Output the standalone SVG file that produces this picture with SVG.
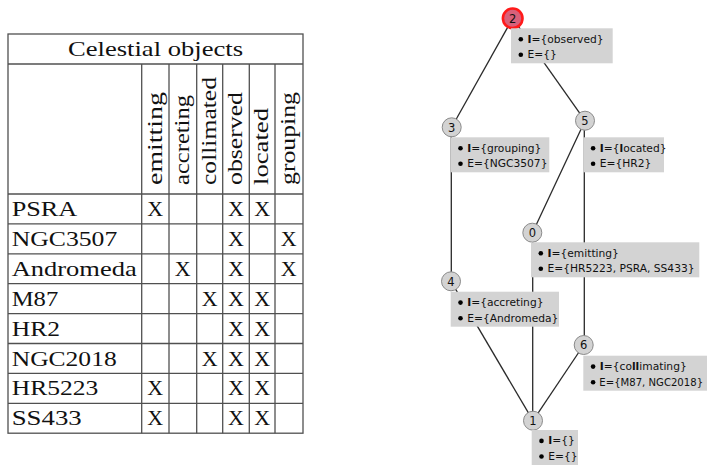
<svg xmlns="http://www.w3.org/2000/svg" width="707" height="466" viewBox="0 0 707 466">
<style>
.tl{stroke:#505050;stroke-width:1.3;fill:none}
.tt{font-family:"Liberation Serif","Times New Roman",serif;font-size:22px;fill:#111}
.hd{font-family:"Liberation Serif","Times New Roman",serif;font-size:22px;fill:#111}
.xm{font-family:"Liberation Serif","Times New Roman",serif;font-size:22px;fill:#111;text-anchor:middle}
.edge{stroke:#2a2a2a;stroke-width:1.3;fill:none}
.nd{fill:#d3d3d3;stroke:#8a8a8a;stroke-width:1}
.top{fill:#d9607a;stroke:#ff1a1a;stroke-width:2.6}
.nl{font-family:"DejaVu Sans",sans-serif;font-size:11.5px;fill:#111;text-anchor:middle}
.box{fill:#d3d3d3}
.bt{font-family:"DejaVu Sans",sans-serif;font-size:10.7px;fill:#111}
.b{font-weight:bold}
.bl{fill:#000}
</style>
<g id="table">
<rect class="tl" x="8" y="34" width="295" height="399.2"/>
<line class="tl" x1="8" y1="64" x2="303" y2="64"/>
<line class="tl" x1="8" y1="194" x2="303" y2="194"/>
<line class="tl" x1="8" y1="223.9" x2="303" y2="223.9"/>
<line class="tl" x1="8" y1="253.8" x2="303" y2="253.8"/>
<line class="tl" x1="8" y1="283.7" x2="303" y2="283.7"/>
<line class="tl" x1="8" y1="313.6" x2="303" y2="313.6"/>
<line class="tl" x1="8" y1="343.5" x2="303" y2="343.5"/>
<line class="tl" x1="8" y1="373.4" x2="303" y2="373.4"/>
<line class="tl" x1="8" y1="403.3" x2="303" y2="403.3"/>
<line class="tl" x1="141.7" y1="64" x2="141.7" y2="433.2"/>
<line class="tl" x1="169" y1="64" x2="169" y2="433.2"/>
<line class="tl" x1="196.7" y1="64" x2="196.7" y2="433.2"/>
<line class="tl" x1="222.7" y1="64" x2="222.7" y2="433.2"/>
<line class="tl" x1="249.3" y1="64" x2="249.3" y2="433.2"/>
<line class="tl" x1="275" y1="64" x2="275" y2="433.2"/>
<text class="tt" x="155.5" y="56" text-anchor="middle" textLength="175" lengthAdjust="spacingAndGlyphs">Celestial objects</text>
<text class="hd" transform="translate(161.5,185) rotate(-90)" textLength="93" lengthAdjust="spacingAndGlyphs">emitting</text>
<text class="hd" transform="translate(189,185) rotate(-90)" textLength="90" lengthAdjust="spacingAndGlyphs">accreting</text>
<text class="hd" transform="translate(216,185) rotate(-90)" textLength="108" lengthAdjust="spacingAndGlyphs">collimated</text>
<text class="hd" transform="translate(242.2,185) rotate(-90)" textLength="93" lengthAdjust="spacingAndGlyphs">observed</text>
<text class="hd" transform="translate(268.4,185) rotate(-90)" textLength="77" lengthAdjust="spacingAndGlyphs">located</text>
<text class="hd" transform="translate(295,185) rotate(-90)" textLength="93" lengthAdjust="spacingAndGlyphs">grouping</text>
<text class="tt" x="11.7" y="216" textLength="65.6" lengthAdjust="spacingAndGlyphs">PSRA</text>
<text class="tt" x="11.7" y="245.9" textLength="105.6" lengthAdjust="spacingAndGlyphs">NGC3507</text>
<text class="tt" x="11.7" y="275.8" textLength="125" lengthAdjust="spacingAndGlyphs">Andromeda</text>
<text class="tt" x="11.7" y="305.7" textLength="46.6" lengthAdjust="spacingAndGlyphs">M87</text>
<text class="tt" x="11.7" y="335.6" textLength="48.3" lengthAdjust="spacingAndGlyphs">HR2</text>
<text class="tt" x="11.7" y="365.5" textLength="105" lengthAdjust="spacingAndGlyphs">NGC2018</text>
<text class="tt" x="11.7" y="395.4" textLength="86.6" lengthAdjust="spacingAndGlyphs">HR5223</text>
<text class="tt" x="11.7" y="425.3" textLength="70" lengthAdjust="spacingAndGlyphs">SS433</text>
<text class="xm" x="155.3" y="216">X</text><text class="xm" x="236" y="216">X</text><text class="xm" x="262.2" y="216">X</text>
<text class="xm" x="236" y="245.9">X</text><text class="xm" x="288.8" y="245.9">X</text>
<text class="xm" x="182.8" y="275.8">X</text><text class="xm" x="236" y="275.8">X</text><text class="xm" x="288.8" y="275.8">X</text>
<text class="xm" x="209.7" y="305.7">X</text><text class="xm" x="236" y="305.7">X</text><text class="xm" x="262.2" y="305.7">X</text>
<text class="xm" x="236" y="335.6">X</text><text class="xm" x="262.2" y="335.6">X</text>
<text class="xm" x="209.7" y="365.5">X</text><text class="xm" x="236" y="365.5">X</text><text class="xm" x="262.2" y="365.5">X</text>
<text class="xm" x="155.3" y="395.4">X</text><text class="xm" x="236" y="395.4">X</text><text class="xm" x="262.2" y="395.4">X</text>
<text class="xm" x="155.3" y="425.3">X</text><text class="xm" x="236" y="425.3">X</text><text class="xm" x="262.2" y="425.3">X</text>
</g>
<g id="connectors">
<line class="edge" x1="512.7" y1="18.3" x2="451.7" y2="127.3"/>
<line class="edge" x1="512.7" y1="18.3" x2="585" y2="120.7"/>
<line class="edge" x1="451.3" y1="127.3" x2="451.3" y2="281.3"/>
<line class="edge" x1="585" y1="120.7" x2="532.5" y2="232.7"/>
<line class="edge" x1="584.3" y1="120.7" x2="584.3" y2="345"/>
<line class="edge" x1="532.7" y1="232.7" x2="532.7" y2="420.7"/>
<line class="edge" x1="451" y1="281.3" x2="533" y2="420.7"/>
<line class="edge" x1="583.7" y1="345" x2="533" y2="420.7"/>
</g>
<g id="node2">
<circle class="top" cx="512.7" cy="18.3" r="9.8"/>
<text class="nl" x="512.7" y="22.5">2</text>
<rect class="box" x="511" y="28.3" width="101.7" height="35"/>
<circle class="bl" cx="520.8" cy="39.2" r="2.3"/><text class="bt" x="527.5" y="42.7"><tspan class="b">I</tspan>={observed}</text>
<circle class="bl" cx="520.8" cy="54.8" r="2.3"/><text class="bt" x="527.5" y="58.3">E={}</text>
</g>
<g id="node3">
<circle class="nd" cx="451.7" cy="127.3" r="9.5"/>
<text class="nl" x="451.7" y="131.5">3</text>
<rect class="box" x="450.7" y="137.3" width="98.6" height="35"/>
<circle class="bl" cx="460.5" cy="148.2" r="2.3"/><text class="bt" x="467.2" y="151.7"><tspan class="b">I</tspan>={grouping}</text>
<circle class="bl" cx="460.5" cy="163.8" r="2.3"/><text class="bt" x="467.2" y="167.3">E={NGC3507}</text>
</g>
<g id="node5">
<circle class="nd" cx="585" cy="120.7" r="9.5"/>
<text class="nl" x="585" y="124.9">5</text>
<rect class="box" x="583.3" y="137.3" width="80.7" height="35"/>
<circle class="bl" cx="593.1" cy="148.2" r="2.3"/><text class="bt" x="599.8" y="151.7"><tspan class="b">I</tspan>={<tspan class="b">l</tspan>ocated}</text>
<circle class="bl" cx="593.1" cy="163.8" r="2.3"/><text class="bt" x="599.8" y="167.3">E={HR2}</text>
</g>
<g id="node0">
<circle class="nd" cx="532.3" cy="232.7" r="9.5"/>
<text class="nl" x="532.3" y="236.9">0</text>
<rect class="box" x="531" y="242.3" width="168.3" height="35"/>
<circle class="bl" cx="540.8" cy="253.2" r="2.3"/><text class="bt" x="547.5" y="256.7"><tspan class="b">I</tspan>={emitting}</text>
<circle class="bl" cx="540.8" cy="268.8" r="2.3"/><text class="bt" x="547.5" y="272.3">E={HR5223, PSRA, SS433}</text>
</g>
<g id="node4">
<circle class="nd" cx="451" cy="281.3" r="9.5"/>
<text class="nl" x="451" y="285.5">4</text>
<rect class="box" x="450.7" y="291.7" width="108.3" height="35"/>
<circle class="bl" cx="460.5" cy="302.6" r="2.3"/><text class="bt" x="467.2" y="306.1"><tspan class="b">I</tspan>={accreting}</text>
<circle class="bl" cx="460.5" cy="318.2" r="2.3"/><text class="bt" x="467.2" y="321.7">E={Andromeda}</text>
</g>
<g id="node6">
<circle class="nd" cx="583.7" cy="345" r="9.5"/>
<text class="nl" x="583.7" y="349.2">6</text>
<rect class="box" x="583.3" y="355.7" width="123.7" height="35"/>
<circle class="bl" cx="593.1" cy="366.6" r="2.3"/><text class="bt" x="599.8" y="370.1"><tspan class="b">I</tspan>={co<tspan class="b">ll</tspan>imating}</text>
<circle class="bl" cx="593.1" cy="382.2" r="2.3"/><text class="bt" x="599.3" y="385.7" style="font-size:10.1px">E={M87, NGC2018}</text>
</g>
<g id="node1">
<circle class="nd" cx="533" cy="420.7" r="9.5"/>
<text class="nl" x="533" y="424.9">1</text>
<rect class="box" x="531.7" y="430" width="46.3" height="35"/>
<circle class="bl" cx="541.5" cy="440.9" r="2.3"/><text class="bt" x="548.2" y="444.4"><tspan class="b">I</tspan>={}</text>
<circle class="bl" cx="541.5" cy="456.5" r="2.3"/><text class="bt" x="548.2" y="460">E={}</text>
</g>
</svg>
